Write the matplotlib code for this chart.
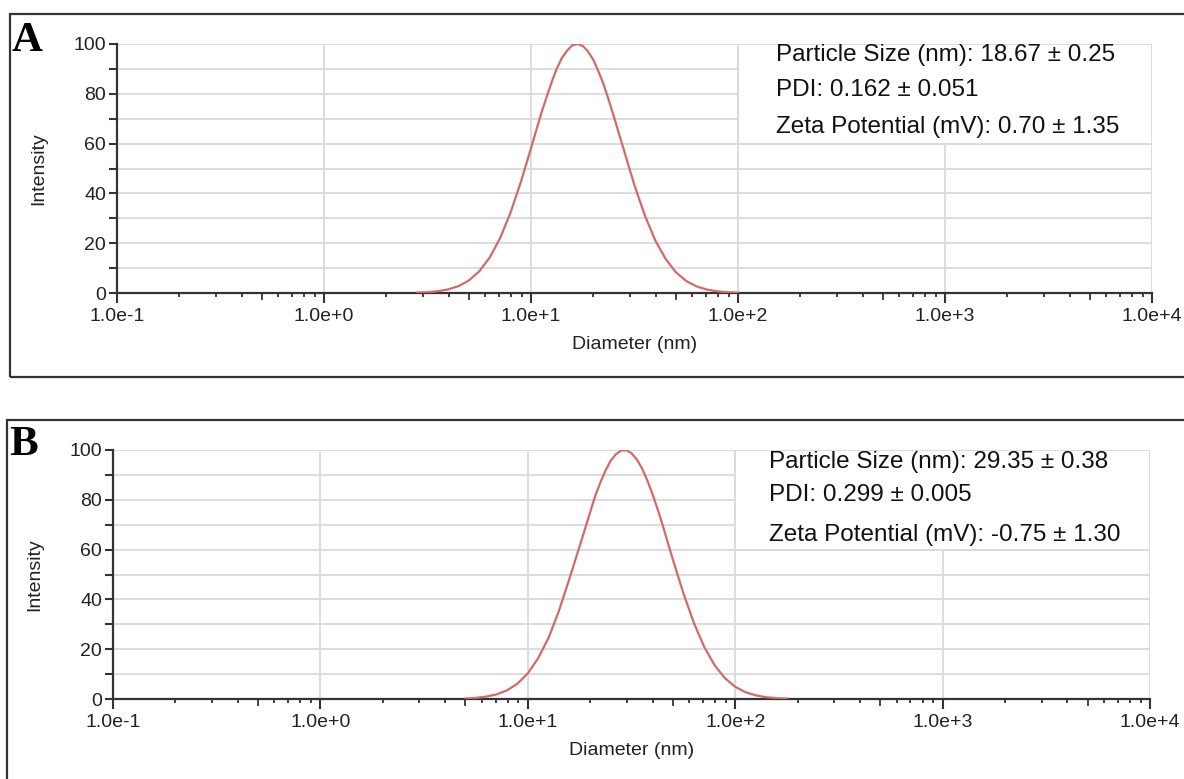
import matplotlib
matplotlib.use('Agg')
import numpy as np
import matplotlib.pyplot as plt
from matplotlib.patches import Rectangle
from matplotlib.ticker import FixedLocator, FuncFormatter
import matplotlib.transforms as mtransforms

# diameters (nm) and intensities
diam_a = [2.82, 3.16, 3.55, 3.98, 4.47, 5.01, 5.62, 6.31, 7.08, 7.94, 8.91,
          10.0, 11.2, 11.9, 12.6, 13.3, 14.1, 15.0, 15.8, 16.8, 17.8, 18.8,
          20.0, 21.1, 22.4, 23.7, 25.1, 28.2, 31.6, 35.5, 39.8, 44.7, 50.1,
          56.2, 63.1, 70.8, 79.4, 89.1, 100.0]
int_a = [0.15, 0.33, 0.71, 1.44, 2.77, 5.04, 8.69, 14.2, 21.9, 32.0, 44.3,
         58.1, 72.1, 78.7, 84.8, 90.0, 94.4, 97.5, 99.4, 100.0, 99.2, 97.1,
         93.7, 89.3, 83.9, 77.7, 71.0, 57.0, 43.3, 31.1, 21.2, 13.7, 8.34,
         4.82, 2.64, 1.37, 0.67, 0.31, 0.14]

diam_b = [5.01, 5.62, 6.31, 7.08, 7.94, 8.91, 10.0, 11.2, 12.6, 14.1, 15.8,
          17.8, 20.0, 21.1, 22.4, 23.7, 25.1, 26.6, 28.2, 29.9, 31.6, 33.5,
          35.5, 37.6, 39.8, 42.2, 44.7, 50.1, 56.2, 63.1, 70.8, 79.4, 89.1,
          100.0, 112.0, 126.0, 141.0, 158.0, 178.0]
int_b = [0.21, 0.46, 0.95, 1.87, 3.48, 6.14, 10.3, 16.3, 24.6, 35.2, 47.8,
         61.5, 75.1, 81.4, 87.0, 91.8, 95.7, 98.3, 99.8, 99.9, 98.7, 96.3,
         92.7, 88.0, 82.6, 76.4, 69.8, 55.9, 42.6, 30.7, 21.0, 13.7, 8.4,
         4.9, 2.73, 1.44, 0.72, 0.34, 0.15]

info_a = ['Particle Size (nm): 18.67 \u00b1 0.25',
          'PDI: 0.162 \u00b1 0.051',
          'Zeta Potential (mV): 0.70 \u00b1 1.35']
info_b = ['Particle Size (nm): 29.35 \u00b1 0.38',
          'PDI: 0.299 \u00b1 0.005',
          'Zeta Potential (mV): -0.75 \u00b1 1.30']

W, H = 1184, 779
GRID = '#dadada'
CURVE = '#d26a6a'
AXC = '#333333'
NARROW = ['Liberation Sans Narrow', 'Liberation Sans', 'DejaVu Sans']
SANS = ['Liberation Sans', 'DejaVu Sans']


def fmt(x, pos):
    e = int(round(np.log10(x)))
    return f'1.0e{e:+d}'


def panel(fig, rect_px, diam, inten, info, text_pos):
    l, t, r, b = rect_px
    ax = fig.add_axes([l / W, 1 - b / H, (r - l) / W, (b - t) / H])
    ax.set_xscale('log')
    ax.set_xlim(0.1, 1e4)
    ax.set_ylim(0, 100)
    ax.set_axisbelow(True)

    ax.xaxis.set_major_locator(FixedLocator([0.1, 1, 10, 100, 1000, 10000]))
    ax.xaxis.set_major_formatter(FuncFormatter(fmt))
    minors = [m * 10.0 ** k for k in range(-1, 4) for m in (2, 3, 4, 6, 7, 8, 9)]
    ax.xaxis.set_minor_locator(FixedLocator(minors))
    ax.yaxis.set_major_locator(FixedLocator([0, 20, 40, 60, 80, 100]))
    ax.yaxis.set_minor_locator(FixedLocator([10, 30, 50, 70, 90]))

    ax.grid(True, which='major', axis='x', color=GRID, lw=1.3)
    ax.grid(True, which='both', axis='y', color=GRID, lw=1.3)

    for s in ('top', 'right'):
        ax.spines[s].set_visible(False)
    for s in ('left', 'bottom'):
        ax.spines[s].set_color(AXC)
        ax.spines[s].set_linewidth(1.6)

    ax.tick_params(axis='x', which='major', length=7.5, width=1.5, color=AXC,
                   pad=3, labelsize=14, labelcolor='#222222')
    ax.tick_params(axis='x', which='minor', length=3, width=1.3, color=AXC)
    ax.tick_params(axis='y', which='both', length=6, width=1.5, color=AXC,
                   pad=2, labelsize=14, labelcolor='#222222')
    for lab in ax.get_xticklabels() + ax.get_yticklabels():
        lab.set_family(SANS)

    # longer tick at every 5x
    trans = mtransforms.blended_transform_factory(ax.transData, ax.transAxes)
    for k in range(-1, 4):
        ax.plot([5 * 10.0 ** k] * 2, [0, -0.025], color=AXC, lw=1.3,
                transform=trans, clip_on=False)

    # white box behind the info text, edged like the grid
    ax.add_patch(Rectangle((100, 60), 1e4 - 100, 40, facecolor='white',
                           edgecolor=GRID, lw=1.3, zorder=1.5))

    ax.plot(diam, inten, color=CURVE, lw=1.6, zorder=3,
            solid_joinstyle='round')

    tx, ty = text_pos
    for s, y in zip(info, ty):
        ax.text(tx, y, s, transform=ax.transAxes, fontsize=17.5,
                family=SANS, va='center', ha='left', color='#111111')

    ax.set_xlabel('Diameter (nm)', family=NARROW, fontsize=14, labelpad=8,
                  color='#222222')
    ax.set_ylabel('Intensity', family=NARROW, fontsize=14, labelpad=19,
                  color='#222222')
    return ax


fig = plt.figure(figsize=(W / 100, H / 100), dpi=100)

# panel borders
fig.patches.append(Rectangle((10 / W, 1 - 377 / H), 1.2, (377 - 14) / H,
                             transform=fig.transFigure, fill=False,
                             edgecolor='#333333', lw=1.6))
fig.patches.append(Rectangle((7 / W, 1 - 800 / H), 1.2, (800 - 420) / H,
                             transform=fig.transFigure, fill=False,
                             edgecolor='#333333', lw=1.6))

panel(fig, (117, 44, 1152, 293), diam_a, int_a, info_a,
      (0.637, [0.956, 0.815, 0.667]))
panel(fig, (113, 450, 1150, 699), diam_b, int_b, info_b,
      (0.633, [0.952, 0.819, 0.658]))

fig.text(12 / W, 1 - 51 / H, 'A', family=['Liberation Serif', 'DejaVu Serif'],
         fontweight='bold', fontsize=31, ha='left', va='baseline')
fig.text(9 / W, 1 - 455 / H, 'B', family=['Liberation Serif', 'DejaVu Serif'],
         fontweight='bold', fontsize=31, ha='left', va='baseline')

fig.savefig('out.png', dpi=100, facecolor='white')
